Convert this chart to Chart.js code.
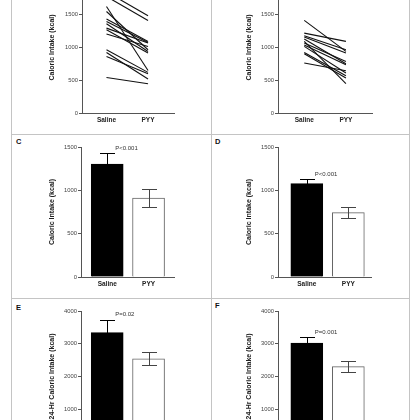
<!DOCTYPE html>
<html>
<head>
<meta charset="utf-8">
<script src="https://cdn.jsdelivr.net/npm/chart.js@4"></script>
<style>
  html, body { margin: 0; padding: 0; background: #fff; }
  body { width: 420px; height: 420px; position: relative; overflow: hidden; font-family: "Liberation Sans", Arial, sans-serif; }
  canvas { position: absolute; }
  .rule { position: absolute; background: #c4c4c4; }
  .letter { position: absolute; font-size: 7.5px; font-weight: bold; color: #111; }
</style>
</head>
<body>
<div class="rule" style="left:11px;top:0;width:1px;height:420px"></div>
<div class="rule" style="left:409px;top:0;width:1px;height:420px"></div>
<div class="rule" style="left:211px;top:0;width:1px;height:420px"></div>
<div class="rule" style="left:11px;top:134px;width:399px;height:1px"></div>
<div class="rule" style="left:11px;top:298px;width:399px;height:1px"></div>

<div class="letter" style="left:16px;top:137px">C</div>
<div class="letter" style="left:215px;top:137px">D</div>
<div class="letter" style="left:16px;top:303px">E</div>
<div class="letter" style="left:215px;top:301px">F</div>

<canvas id="chartA" width="127" height="145" style="left:48px;top:-18px"></canvas>
<canvas id="chartB" width="128" height="145" style="left:245px;top:-18px"></canvas>
<canvas id="chartC" width="127" height="150" style="left:48px;top:141px"></canvas>
<canvas id="chartD" width="127" height="150" style="left:245px;top:141px"></canvas>
<canvas id="chartE" width="127" height="151" style="left:48px;top:305px"></canvas>
<canvas id="chartF" width="127" height="151" style="left:245px;top:305px"></canvas>

<script>
// categories
const groups = ['Saline', 'PYY'];

// individual subjects, panels A and B (kcal)
const salineA = [1850, 1780, 1627, 1550, 1434, 1397, 1362, 1296, 1271, 1205, 966, 925, 864, 543];
const pyyA    = [1484, 1413, 650, 966, 1092, 1077, 940, 1070, 915, 1016, 620, 519, 600, 447];
const salineB = [1414, 1220, 1180, 1159, 1129, 1093, 1068, 1040, 1017, 925, 905, 763];
const pyyB    = [941, 1093, 966, 915, 753, 447, 788, 737, 610, 570, 534, 645];

// group means and SEM, panels C-F (kcal)
const meanC = [1304, 912];  const semC = [128, 100];
const meanD = [1077, 742];  const semD = [54, 61];
const meanE = [3339, 2541]; const semE = [400, 200];
const meanF = [3020, 2300]; const semF = [180, 175];

const pC = 'P<0.001';
const pD = 'P<0.001';
const pE = 'P=0.02';
const pF = 'P=0.001';

const titleShort = 'Caloric Intake (kcal)';
const titleLong = '24-Hr Caloric Intake (kcal)';

const FONT = '"Liberation Sans", Arial, sans-serif';
const AXIS = '#555';

// error bars + P value label, drawn through the chart's own scales
const errorBarPlugin = {
    id: 'errorBars',
    afterDatasetsDraw(chart, args, opts) {
        if (!opts.sem) return;
        const { ctx, scales: { x, y } } = chart;
        ctx.save();
        ctx.lineWidth = 1;
        opts.mean.forEach((m, i) => {
            const px = Math.round(x.getPixelForValue(i)) + 0.5;
            const top = Math.round(y.getPixelForValue(m + opts.sem[i])) + 0.5;
            const bot = Math.round(y.getPixelForValue(m - opts.sem[i])) + 0.5;
            ctx.strokeStyle = i === 0 ? '#000' : '#444';
            ctx.beginPath();
            ctx.moveTo(px, top); ctx.lineTo(px, bot);
            ctx.moveTo(px - 7.5, top); ctx.lineTo(px + 7.5, top);
            ctx.moveTo(px - 7.5, bot); ctx.lineTo(px + 7.5, bot);
            ctx.stroke();
        });
        if (opts.p) {
            ctx.fillStyle = '#333';
            ctx.font = '6px ' + FONT;
            ctx.textBaseline = 'middle';
            ctx.textAlign = 'left';
            ctx.fillText(opts.p, x.getPixelForValue(0) + 8, y.getPixelForValue(opts.mean[0] + opts.sem[0]) - 5);
        }
        ctx.restore();
    }
};

function scales(o) {
    return {
        x: {
            type: 'linear', min: o.xmin, max: o.xmax, offset: false,
            afterBuildTicks: s => { s.ticks = groups.map((g, i) => ({ value: i })); },
            afterFit: s => { s.height = 14; s.paddingLeft = 0; s.paddingRight = 0; },
            grid: { display: false, drawTicks: false, offset: false },
            border: { display: true, color: AXIS, width: 1 },
            ticks: {
                padding: 3, color: '#222', maxRotation: 0, autoSkip: false,
                font: { family: FONT, size: 6.5, weight: 'bold' },
                callback: v => groups[v]
            }
        },
        y: {
            min: 0, max: o.ymax,
            afterFit: s => { s.width = o.yw; s.paddingTop = 0; s.paddingBottom = 0; },
            grid: { display: true, drawOnChartArea: false, drawTicks: true, tickLength: 3, color: AXIS },
            border: { display: true, color: AXIS, width: 1 },
            ticks: { stepSize: o.step, padding: 1, color: '#444', font: { family: FONT, size: 5.8 }, callback: v => String(v) },
            title: { display: true, text: o.title, padding: 0, color: '#222', font: { family: FONT, size: 7, weight: 'bold' } }
        }
    };
}

function lineChart(id, saline, pyy, o) {
    const datasets = saline.map((s, i) => ({
        data: [{ x: 0, y: s }, { x: 1, y: pyy[i] }],
        borderColor: '#111', borderWidth: 1.1, pointRadius: 0, fill: false
    }));
    return new Chart(document.getElementById(id), {
        type: 'line',
        data: { datasets },
        options: {
            responsive: false, animation: false,
            layout: { padding: 0 },
            plugins: { legend: { display: false }, tooltip: { enabled: false } },
            scales: scales(o)
        }
    });
}

function barChart(id, mean, sem, p, o) {
    return new Chart(document.getElementById(id), {
        type: 'bar',
        data: {
            datasets: [{
                data: mean.map((m, i) => ({ x: i, y: m })),
                backgroundColor: ['#000', '#fff'],
                borderColor: ['#000', '#666'],
                borderWidth: 1,
                barThickness: 32
            }]
        },
        options: {
            responsive: false, animation: false,
            layout: { padding: { top: 6 } },
            plugins: {
                legend: { display: false }, tooltip: { enabled: false },
                errorBars: { mean, sem, p }
            },
            scales: scales(o)
        },
        plugins: [errorBarPlugin]
    });
}

lineChart('chartA', salineA, pyyA, { xmin: -0.59, xmax: 1.65, ymax: 2000, step: 500, yw: 34, title: titleShort });
lineChart('chartB', salineB, pyyB, { xmin: -0.63, xmax: 1.65, ymax: 2000, step: 500, yw: 33, title: titleShort });
barChart('chartC', meanC, semC, pC, { xmin: -0.634, xmax: 1.64, ymax: 1500, step: 500, yw: 33, title: titleShort });
barChart('chartD', meanD, semD, pD, { xmin: -0.694, xmax: 1.57, ymax: 1500, step: 500, yw: 33, title: titleShort });
barChart('chartE', meanE, semE, pE, { xmin: -0.634, xmax: 1.64, ymax: 4000, step: 1000, yw: 33, title: titleLong });
barChart('chartF', meanF, semF, pF, { xmin: -0.694, xmax: 1.57, ymax: 4000, step: 1000, yw: 33, title: titleLong });
</script>
</body>
</html>
